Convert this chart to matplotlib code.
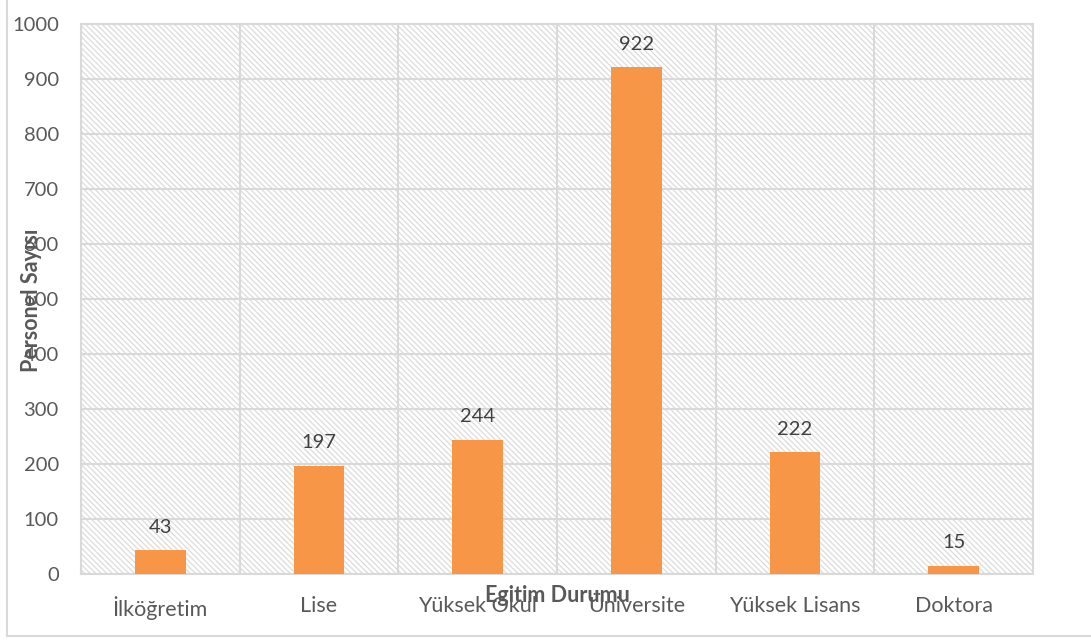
import matplotlib
matplotlib.use("Agg")
import matplotlib.pyplot as plt
from matplotlib.patches import Rectangle
from matplotlib.lines import Line2D

plt.rcParams['font.family'] = ['Lato', 'DejaVu Sans']
plt.rcParams['hatch.linewidth'] = 0.9

kategoriler = ["İlköğretim", "Lise", "Yüksek Okul", "Üniversite", "Yüksek Lisans", "Doktora"]
personel = [43, 197, 244, 922, 222, 15]
y_ticks = [0, 100, 200, 300, 400, 500, 600, 700, 800, 900, 1000]

grid_renk = "#D9D9D9"
yazi_renk = "#595959"
bar_renk = "#F79646"

fig = plt.figure(figsize=(10.91, 6.41), dpi=100)
ax = fig.add_axes([81/1091, 1 - 574/641, (1033 - 81)/1091, (574 - 24)/641])

# hatched background of the plot area
ax.add_patch(Rectangle((0, 0), 1, 1, transform=ax.transAxes, facecolor="white",
                       edgecolor="#DCDCDC", hatch="\\\\\\\\\\\\", linewidth=0, zorder=0))

x = list(range(len(kategoriler)))
ax.bar(x, personel, width=0.32, color=bar_renk, zorder=3)
for xi, v in zip(x, personel):
    ax.text(xi, v + 26, str(v), ha="center", va="bottom", fontsize=14.5, color="#404040", zorder=4)

ax.set_xlim(-0.5, len(kategoriler) - 0.5)
ax.set_ylim(0, 1000)
ax.set_yticks(y_ticks)
ax.set_xticks(x)
ax.set_xticklabels(kategoriler)
ax.set_xticks([i + 0.5 for i in range(-1, len(kategoriler))], minor=True)
ax.tick_params(axis="both", which="both", length=0, labelcolor=yazi_renk)
ax.tick_params(axis="y", pad=16, labelsize=14.5)
ax.tick_params(axis="x", pad=16, labelsize=15.5)

ax.grid(True, axis="y", which="major", color=grid_renk, linewidth=1.5, zorder=1)
ax.grid(True, axis="x", which="minor", color=grid_renk, linewidth=1.5, zorder=1)
ax.grid(False, axis="x", which="major")
for s in ax.spines.values():
    s.set_color(grid_renk)
    s.set_linewidth(1.5)

fig.text(31/1091, 1 - 300/641, "Personel Sayısı", rotation=90, ha="center", va="center",
         fontsize=15.5, fontweight="bold", color=yazi_renk)
fig.text(557/1091, 1 - 595/641, "Egitim Durumu", ha="center", va="center",
         fontsize=15.5, fontweight="bold", color=yazi_renk)

# chart border
fig.add_artist(Line2D([7/1091, 7/1091], [1 - 636/641, 1], transform=fig.transFigure, color=grid_renk, linewidth=1.5))
fig.add_artist(Line2D([7/1091, 1], [1 - 636/641, 1 - 636/641], transform=fig.transFigure, color=grid_renk, linewidth=1.5))

fig.savefig("out.png", dpi=100)
